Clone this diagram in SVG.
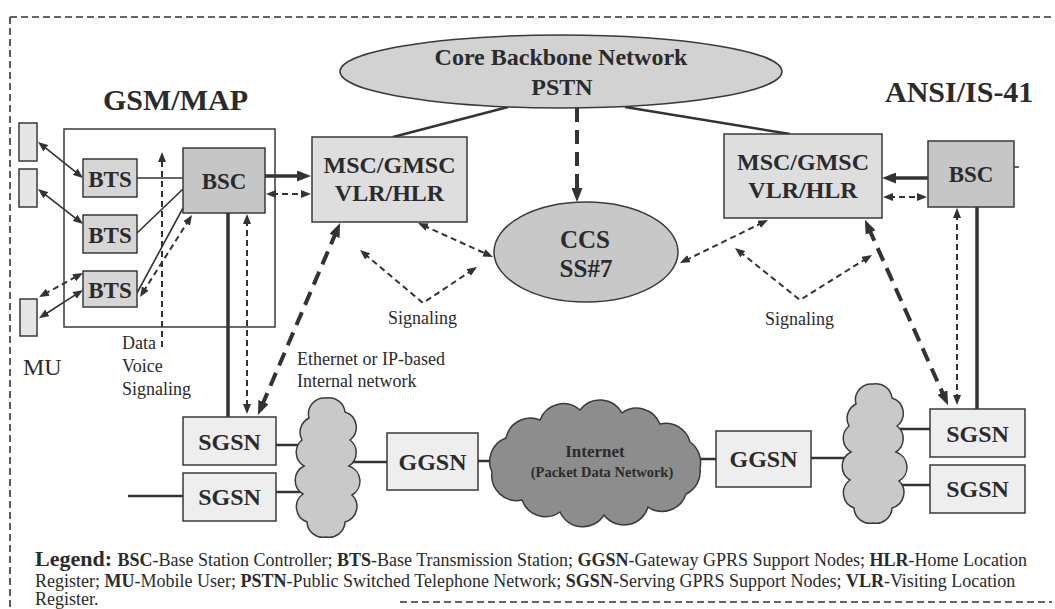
<svg xmlns="http://www.w3.org/2000/svg" width="1055" height="609" viewBox="0 0 1055 609">
  <defs>
    <style>
      .serif { font-family: "Liberation Serif", "Times New Roman", serif; fill: #2b2b2b; }
      .nodeTxt { font-family: "Liberation Serif", "Times New Roman", serif; font-weight: bold; font-size: 24px; fill: #2b2b2b; text-anchor: middle; }
      .box { stroke: #3a3a3a; stroke-width: 1.5; }
      .thin { stroke: #333; stroke-width: 1.6; fill: none; }
      .mid { stroke: #333; stroke-width: 2.5; fill: none; }
      .thick { stroke: #333; stroke-width: 3.5; fill: none; }
      .dash { stroke: #333; stroke-width: 2; stroke-dasharray: 6 4; fill: none; }
      .bigdash { stroke: #333; stroke-width: 4; stroke-dasharray: 14 8; fill: none; }
      .frame { stroke: #333; stroke-width: 1.6; stroke-dasharray: 7 4; fill: none; }
    </style>
    <marker id="ah" viewBox="0 0 10 8" refX="4" refY="4" markerWidth="10" markerHeight="8" markerUnits="userSpaceOnUse" orient="auto-start-reverse">
      <path d="M0,0 L10,4 L0,8 z" fill="#333" stroke="none"/>
    </marker>
    <marker id="AH" viewBox="0 0 14 11" refX="5" refY="5.5" markerWidth="14" markerHeight="11" markerUnits="userSpaceOnUse" orient="auto-start-reverse">
      <path d="M0,0 L14,5.5 L0,11 z" fill="#333" stroke="none"/>
    </marker>
    <!-- small vertical cloud used for the internal IP networks -->
    <path id="vcloud" d="M309,418 A16,16 0 0 1 326,398 A16,16 0 0 1 345,412 A16,16 0 0 1 350,440 A16,16 0 0 1 349,466 A16,16 0 0 1 352,495 A16,16 0 0 1 345,522 A16,16 0 0 1 326,537 A16,16 0 0 1 307,522 A16,16 0 0 1 303,494 A16,16 0 0 1 304,466 A16,16 0 0 1 302,440 A16,16 0 0 1 309,418 z"/>
  </defs>

  <rect width="1055" height="609" fill="#ffffff"/>

  <!-- dashed outer frame -->
  <g id="frame">
    <path class="frame" d="M10,17 H1052"/>
    <path class="frame" d="M10,17 V609"/>
    <path class="frame" d="M400,602 H1052"/>
    <path d="M1014,167 H1019" stroke="#333" stroke-width="1.5"/>
  </g>

  <!-- connectors -->
  <g id="connectors">
    <!-- MU <-> BTS radio links -->
    <line class="thin" x1="42.7" y1="145.7" x2="78.3" y2="174.2" marker-start="url(#ah)" marker-end="url(#ah)"/>
    <line class="thin" x1="42.7" y1="192.7" x2="78.3" y2="220.3" marker-start="url(#ah)" marker-end="url(#ah)"/>
    <line class="thin" x1="44" y1="315" x2="78" y2="293.2" marker-start="url(#ah)" marker-end="url(#ah)"/>
    <line class="dash" x1="44.3" y1="294.1" x2="77.7" y2="275.9" stroke-dasharray="5 4" marker-start="url(#ah)" marker-end="url(#ah)"/>
    <!-- BTS to BSC -->
    <line class="thin" x1="137" y1="178" x2="183" y2="178"/>
    <line class="thin" x1="137" y1="233" x2="183" y2="189"/>
    <line class="thin" x1="137" y1="293" x2="183" y2="208"/>
    <line class="dash" x1="143.2" y1="291.9" x2="188.8" y2="220.1" marker-start="url(#ah)" marker-end="url(#ah)"/>
    <!-- Data / Voice / Signaling pointer -->
    <line class="dash" x1="162" y1="347" x2="162" y2="158" stroke-dasharray="5 4" marker-end="url(#ah)"/>
    <!-- BSC to MSC (GSM side) -->
    <line class="thick" x1="265" y1="176" x2="302" y2="176" marker-end="url(#AH)"/>
    <line class="dash" x1="272" y1="194" x2="305" y2="194" marker-start="url(#ah)" marker-end="url(#ah)"/>
    <!-- BSC to SGSN (GSM side) -->
    <line class="thick" x1="228" y1="213" x2="228" y2="417"/>
    <line class="dash" x1="247" y1="220" x2="247" y2="408" stroke-dasharray="5 4" marker-start="url(#ah)" marker-end="url(#ah)"/>
    <!-- MSC to SGSN over the internal network -->
    <line class="bigdash" x1="336.5" y1="231.3" x2="261.5" y2="406.7" marker-start="url(#AH)" marker-end="url(#AH)"/>
    <!-- MSCs to core backbone -->
    <line class="mid" x1="393" y1="137" x2="508" y2="107"/>
    <line class="mid" x1="625" y1="107" x2="790" y2="134"/>
    <!-- PSTN to CCS -->
    <line class="bigdash" x1="577" y1="108" x2="577" y2="193" stroke-dasharray="12 7" marker-end="url(#AH)"/>
    <!-- MSC to CCS signaling -->
    <line class="dash" x1="423.5" y1="225.5" x2="487.5" y2="254.5" marker-start="url(#ah)" marker-end="url(#ah)"/>
    <line class="dash" x1="762.6" y1="222.6" x2="685.4" y2="260.4" marker-start="url(#ah)" marker-end="url(#ah)"/>
    <!-- Signaling pointers -->
    <polyline class="dash" points="364.6,253.9 423,303 472,270.3" marker-start="url(#ah)" marker-end="url(#ah)"/>
    <polyline class="dash" points="739.7,251.8 800,300 866.9,258.2" marker-start="url(#ah)" marker-end="url(#ah)"/>
    <!-- BSC to MSC (ANSI side) -->
    <line class="thick" x1="928" y1="178" x2="891" y2="178" marker-end="url(#AH)"/>
    <line class="dash" x1="889" y1="197" x2="921" y2="197" marker-start="url(#ah)" marker-end="url(#ah)"/>
    <!-- BSC to SGSN (ANSI side) -->
    <line class="thick" x1="977" y1="207" x2="977" y2="409"/>
    <line class="dash" x1="957" y1="214" x2="957" y2="399" stroke-dasharray="5 4" marker-start="url(#ah)" marker-end="url(#ah)"/>
    <line class="bigdash" x1="868.6" y1="228" x2="944.4" y2="397" marker-start="url(#AH)" marker-end="url(#AH)"/>
    <!-- packet network links -->
    <line class="mid" x1="128" y1="496" x2="183" y2="496"/>
    <line class="mid" x1="276" y1="445" x2="306" y2="445"/>
    <line class="mid" x1="276" y1="492" x2="306" y2="492"/>
    <line class="mid" x1="348" y1="462" x2="387" y2="462"/>
    <line class="mid" x1="478" y1="461" x2="496" y2="461"/>
    <line class="mid" x1="696" y1="459" x2="716" y2="459"/>
    <line class="mid" x1="811" y1="458" x2="850" y2="458"/>
    <line class="mid" x1="900" y1="429" x2="930" y2="429"/>
    <line class="mid" x1="900" y1="485" x2="930" y2="485"/>
  </g>

  <!-- GSM/MAP side -->
  <g id="gsm-title"><text class="serif" x="103" y="110" font-size="30" font-weight="bold">GSM/MAP</text></g>
  <g id="gsm-bss"><rect x="64" y="129" width="211" height="198" fill="none" class="box"/></g>
  <g id="mu1"><rect x="19" y="123" width="18" height="38" fill="#e6e6e6" class="box"/></g>
  <g id="mu2"><rect x="19" y="169" width="18" height="38" fill="#e6e6e6" class="box"/></g>
  <g id="mu3"><rect x="20" y="299" width="17" height="37" fill="#e6e6e6" class="box"/></g>
  <g id="mu-label"><text class="serif" x="23" y="375" font-size="24">MU</text></g>
  <g id="bts1"><rect x="83" y="159" width="54" height="38" fill="#d6d6d6" class="box"/><text class="nodeTxt" x="110" y="187" style="font-size:23px">BTS</text></g>
  <g id="bts2"><rect x="83" y="215" width="54" height="38" fill="#d6d6d6" class="box"/><text class="nodeTxt" x="110" y="243" style="font-size:23px">BTS</text></g>
  <g id="bts3"><rect x="83" y="271" width="54" height="36" fill="#d6d6d6" class="box"/><text class="nodeTxt" x="110" y="298" style="font-size:23px">BTS</text></g>
  <g id="bsc-gsm"><rect x="183" y="148" width="82" height="65" fill="#c6c6c6" class="box"/><text class="nodeTxt" x="224" y="189" style="font-size:23px">BSC</text></g>
  <g id="dvs-label">
    <text class="serif" x="122" y="349" font-size="18">Data</text>
    <text class="serif" x="122" y="372" font-size="18">Voice</text>
    <text class="serif" x="122" y="395" font-size="18">Signaling</text>
  </g>
  <g id="msc-gsm"><rect x="312" y="137" width="155" height="85" fill="#dedede" class="box"/>
    <text class="nodeTxt" x="389.5" y="173">MSC/GMSC</text><text class="nodeTxt" x="389.5" y="201">VLR/HLR</text></g>

  <!-- core -->
  <g id="core"><ellipse cx="561" cy="71.5" rx="221" ry="36.5" fill="#d2d2d2" class="box"/>
    <text class="nodeTxt" x="561" y="65">Core Backbone Network</text><text class="nodeTxt" x="562" y="95">PSTN</text></g>
  <g id="ccs"><ellipse cx="586" cy="252" rx="92" ry="50" fill="#c8c8c8" class="box"/>
    <text class="nodeTxt" x="585" y="248" style="font-size:25px">CCS</text><text class="nodeTxt" x="586" y="277" style="font-size:25px">SS#7</text></g>
  <g id="sig-left"><text class="serif" x="388" y="324" font-size="18">Signaling</text></g>
  <g id="sig-right"><text class="serif" x="765" y="325" font-size="18">Signaling</text></g>
  <g id="eth-label">
    <text class="serif" x="297" y="365" font-size="18">Ethernet or IP-based</text>
    <text class="serif" x="297" y="387" font-size="18">Internal network</text>
  </g>

  <!-- ANSI/IS-41 side -->
  <g id="ansi-title"><text class="serif" x="885" y="102" font-size="30" font-weight="bold">ANSI/IS-41</text></g>
  <g id="msc-ansi"><rect x="724" y="134" width="158" height="84" fill="#dedede" class="box"/>
    <text class="nodeTxt" x="803" y="170">MSC/GMSC</text><text class="nodeTxt" x="803" y="198">VLR/HLR</text></g>
  <g id="bsc-ansi"><rect x="928" y="141" width="86" height="66" fill="#c6c6c6" class="box"/><text class="nodeTxt" x="971" y="182" style="font-size:23px">BSC</text></g>

  <!-- packet data side -->
  <g id="sgsn-l1"><rect x="183" y="417" width="93" height="48" fill="#eeeeee" class="box"/><text class="nodeTxt" x="229.5" y="450">SGSN</text></g>
  <g id="sgsn-l2"><rect x="183" y="473" width="93" height="48" fill="#eeeeee" class="box"/><text class="nodeTxt" x="229.5" y="505">SGSN</text></g>
  <g id="ipnet-left"><use href="#vcloud" fill="#c9c9c9" class="box"/></g>
  <g id="ggsn-l"><rect x="387" y="433" width="91" height="57" fill="#eeeeee" class="box"/><text class="nodeTxt" x="432.5" y="470">GGSN</text></g>
  <g id="internet">
    <path d="M492,472 A25,25 0 0 1 506,438 A25,25 0 0 1 540,420 A25,25 0 0 1 580,410 A25,25 0 0 1 622,413 A25,25 0 0 1 660,424 A25,25 0 0 1 690,442 A25,25 0 0 1 700,468 A25,25 0 0 1 686,494 A25,25 0 0 1 648,507 A25,25 0 0 1 604,515 A25,25 0 0 1 560,512 A25,25 0 0 1 522,500 A25,25 0 0 1 492,472 z" fill="#8d8d8d" class="box"/>
    <text class="nodeTxt" x="595" y="457" style="font-size:17px">Internet</text>
    <text class="nodeTxt" x="602" y="477" style="font-size:14.5px">(Packet Data Network)</text>
  </g>
  <g id="ggsn-r"><rect x="716" y="431" width="95" height="56" fill="#eeeeee" class="box"/><text class="nodeTxt" x="763.5" y="467">GGSN</text></g>
  <g id="ipnet-right"><use href="#vcloud" transform="translate(547,-14)" fill="#c9c9c9" class="box"/></g>
  <g id="sgsn-r1"><rect x="930" y="409" width="95" height="48" fill="#eeeeee" class="box"/><text class="nodeTxt" x="977.5" y="442">SGSN</text></g>
  <g id="sgsn-r2"><rect x="930" y="465" width="95" height="48" fill="#eeeeee" class="box"/><text class="nodeTxt" x="977.5" y="497">SGSN</text></g>

  <!-- legend -->
  <g id="legend" class="serif" font-size="18">
    <text x="35" y="566"><tspan font-weight="bold" font-size="22">Legend: </tspan><tspan font-weight="bold">BSC</tspan>-Base Station Controller;  <tspan font-weight="bold">BTS</tspan>-Base Transmission Station; <tspan font-weight="bold">GGSN</tspan>-Gateway GPRS Support Nodes; <tspan font-weight="bold">HLR</tspan>-Home Location</text>
    <text x="35" y="587">Register; <tspan font-weight="bold">MU</tspan>-Mobile User; <tspan font-weight="bold">PSTN</tspan>-Public Switched Telephone Network; <tspan font-weight="bold">SGSN</tspan>-Serving GPRS Support Nodes; <tspan font-weight="bold">VLR</tspan>-Visiting Location</text>
    <text x="35" y="605">Register.</text>
  </g>
</svg>
